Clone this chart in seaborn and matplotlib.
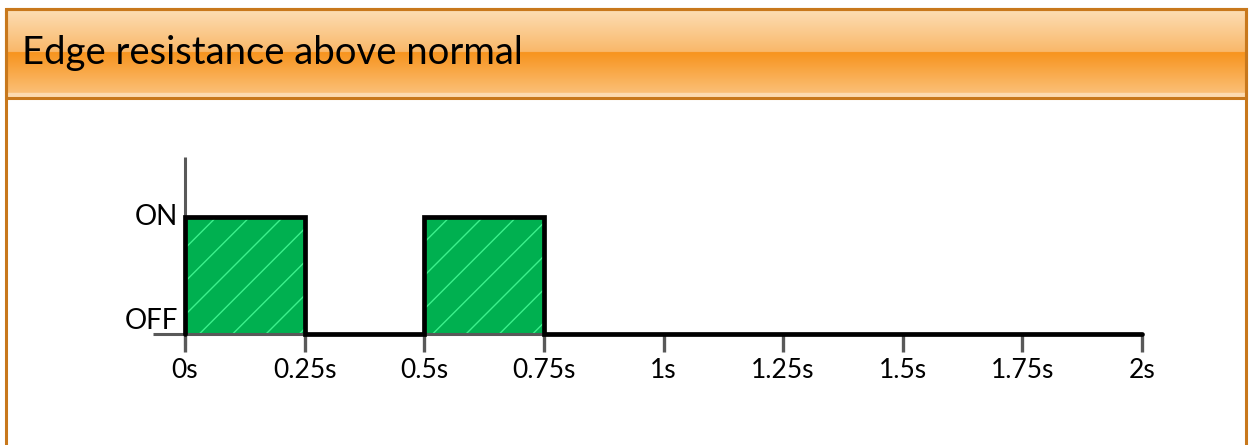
import matplotlib
matplotlib.use("Agg")
import matplotlib.pyplot as plt
import seaborn as sns
import numpy as np
from matplotlib.patches import Rectangle

# chart data
times = [0, 0.25, 0.5, 0.75, 2]
states = [1, 0, 1, 0, 0]
tick_values = [0, 0.25, 0.5, 0.75, 1, 1.25, 1.5, 1.75, 2]
tick_labels = ["0s", "0.25s", "0.5s", "0.75s", "1s", "1.25s", "1.5s", "1.75s", "2s"]
state_labels = ["OFF", "ON"]
title = "Edge resistance above normal"

sns.set_theme(style="white")
plt.rcParams["font.family"] = ["Lato", "DejaVu Sans"]
plt.rcParams["hatch.linewidth"] = 1.0

W, H = 1249, 445
fig = plt.figure(figsize=(W / 100, H / 100), dpi=100)

# background panel in pixel coordinates
bg = fig.add_axes([0, 0, 1, 1])
bg.set_xlim(0, W)
bg.set_ylim(H, 0)
bg.axis("off")

# header gradient
top = np.linspace(0, 1, 50)
c1 = np.array([253, 221, 179]) / 255
c2 = np.array([249, 184, 106]) / 255
c3 = np.array([247, 148, 30]) / 255
c4 = np.array([251, 192, 120]) / 255
upper = c1 + (c2 - c1) * top[:, None]
lower = c3 + (c4 - c3) * top[:, None]
grad = np.concatenate([upper, lower])[:, None, :]
bg.imshow(grad, extent=(6, 1246, 94, 10), aspect="auto", interpolation="bilinear", zorder=1)
bg.add_patch(Rectangle((6, 93), 1240, 4, color="#FCDAB0", zorder=2))
bg.add_patch(Rectangle((6, 9), 1240, 89, fill=False, edgecolor="#C8781C", lw=2.2, zorder=3))
bg.add_patch(Rectangle((6, 9), 1240, 460, fill=False, edgecolor="#C8781C", lw=2.2, zorder=3))
bg.text(22, 53, title, fontsize=27.5, color="black", va="center", ha="left", zorder=4)

# plot axes placed so data x 0..2 -> px 185..1142, y 0..1 -> px 334..217
sx = (1142 - 185) / 2.0
sy = 334 - 217
x0, x1 = -0.3, 2.1
y0, y1 = -0.2, 1.6
left = 185 + x0 * sx
right = 185 + x1 * sx
ytop = 334 - y1 * sy
ybot = 334 - y0 * sy
ax = fig.add_axes([left / W, 1 - ybot / H, (right - left) / W, (ybot - ytop) / H])
ax.set_xlim(x0, x1)
ax.set_ylim(y0, y1)
ax.patch.set_alpha(0)

axis_color = "#595959"
for s in ["top", "right"]:
    ax.spines[s].set_visible(False)
ax.spines["bottom"].set_position(("data", 0))
ax.spines["left"].set_position(("data", 0))
ax.spines["bottom"].set_bounds(-0.067, 2)
ax.spines["left"].set_bounds(-0.09, 1.51)
for s in ["bottom", "left"]:
    ax.spines[s].set_color(axis_color)
    ax.spines[s].set_linewidth(2.2)
    ax.spines[s].set_capstyle("butt")

ax.set_xticks(tick_values)
ax.set_xticklabels(tick_labels)
ax.tick_params(axis="x", direction="out", length=13, width=2.4, color=axis_color,
               labelsize=19, pad=4, labelcolor="black", bottom=True)
ax.set_yticks([0, 1])
ax.set_yticklabels(state_labels)
ax.tick_params(axis="y", length=0, labelsize=20, pad=5, labelcolor="black", left=True)
off_lbl, on_lbl = ax.get_yticklabels()
off_lbl.set_verticalalignment("bottom")
on_lbl.set_verticalalignment("center")

# green hatched pulses
ax.fill_between(times, 0, states, step="post", facecolor="#00B050",
                edgecolor="#3CF08C", hatch="/", linewidth=0, zorder=2)
# black step outline
sx_line = [0] + times
sy_line = [0] + states
ax.plot(sx_line, sy_line, drawstyle="steps-post", color="black", lw=3.4,
        solid_joinstyle="miter", zorder=3)

fig.savefig("out.png", dpi=100)
